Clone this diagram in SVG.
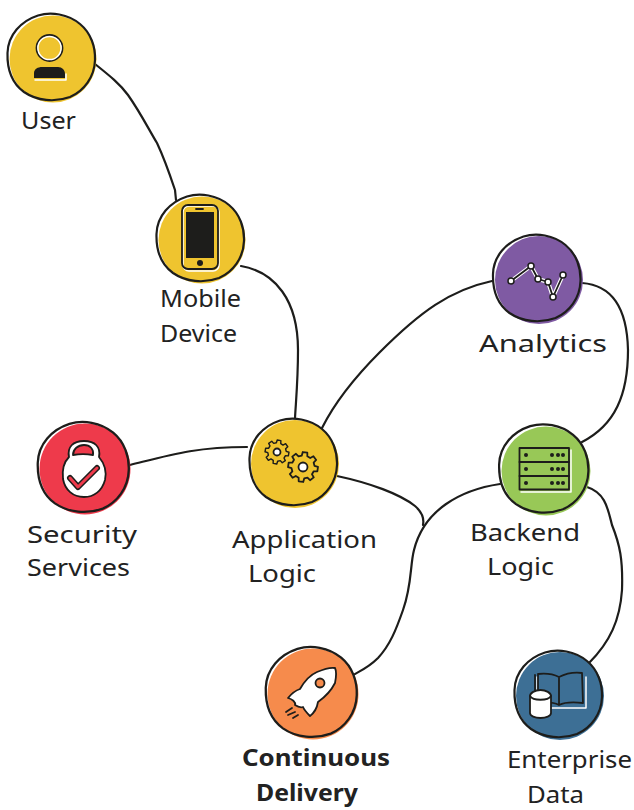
<svg xmlns="http://www.w3.org/2000/svg" xmlns:xlink="http://www.w3.org/1999/xlink" width="634" height="810" viewBox="0 0 634 810">
<style>
.c{fill:none;stroke:#1d1d1b;stroke-width:2.2;stroke-linecap:round;stroke-linejoin:round}
.o{fill:none;stroke:#1d1d1b;stroke-width:2.2;vector-effect:non-scaling-stroke;stroke-linejoin:round}
.i{stroke:#1d1d1b;stroke-width:1.8;stroke-linejoin:round;stroke-linecap:round}
.h{fill:none;stroke:#fff;stroke-width:1.5;stroke-linejoin:round;stroke-linecap:round}
.k{fill:#1d1d1b}
text{font-family:"Noto Sans","Liberation Sans",sans-serif;font-size:24px;fill:#222}
.b{font-weight:700}
</style>
<defs>
<path id="ring" d="M-43.5,-4 C-43,-22 -30,-36 -13,-41.5 C0,-45.5 17,-43 29,-33 C40,-24 44.5,-10 44,3 C43.5,20 33,34 19,40 C4,45.5 -14,44 -27,35 C-38,27 -44,13 -43.5,-4 Z"/>
<path id="gear" d="M11.2,-2.8 L14.8,-2.3 14.8,2.3 11.2,2.8 9.9,5.9 12.1,8.8 8.8,12.1 5.9,9.9 2.8,11.2 2.3,14.8 -2.3,14.8 -2.8,11.2 -5.9,9.9 -8.8,12.1 -12.1,8.8 -9.9,5.9 -11.2,2.8 -14.8,2.3 -14.8,-2.3 -11.2,-2.8 -9.9,-5.9 -12.1,-8.8 -8.8,-12.1 -5.9,-9.9 -2.8,-11.2 -2.3,-14.8 2.3,-14.8 2.8,-11.2 5.9,-9.9 8.8,-12.1 12.1,-8.8 9.9,-5.9 Z"/>
</defs>
<g id="connectors">
<path class="c" d="M95,64 C110,76 120,84 128,95 C140,112 148,128 157,143 C165,160 170,175 175,190 L176,200"/>
<path class="c" d="M241,266 C275,272 298,300 298,350 C298,380 296,400 295,418"/>
<path class="c" d="M492,281 C450,290 420,312 380,352 C355,377 335,402 322,428"/>
<path class="c" d="M130,465 C170,455 195,447 247,447"/>
<path class="c" d="M337,476 C370,483 400,494 415,506 C423,513 424,520 423,525"/>
<path class="c" d="M500,484 C460,490 424,510 414,550 C410,565 412,585 403,610 C396,630 390,645 378,658 C368,668 360,671 353,675"/>
<path class="c" d="M582,283 C610,285 627,305 628,350 C628,395 615,425 582,442"/>
<path class="c" d="M587,487 C606,493 608,510 612,525 C620,545 623,560 622,590 C620,620 610,642 589,663"/>
</g>
<g id="user">
<circle cx="53" cy="59" r="43.5" fill="#efc42f"/>
<use href="#ring" class="o" transform="translate(51,57)"/>
<circle class="i" cx="49.5" cy="48" r="13" fill="#efc42f"/>
<circle class="h" cx="49.5" cy="48" r="11.6"/>
<path class="k" d="M34,78 L34,73 C34,69 38,67 42,67 L58,67 C62,67 65,70 65,74 L65,78 Z"/>
<path class="h" d="M35,80 L66,80 L66,74"/>
<text x="21" y="129" textLength="55" lengthAdjust="spacingAndGlyphs">User</text>
</g>
<g id="mobile">
<circle cx="202" cy="240" r="43.5" fill="#efc42f"/>
<use href="#ring" class="o" transform="translate(200,238)"/>
<rect class="h" x="183" y="206" width="36" height="65" rx="6"/>
<rect class="i" x="182" y="205" width="36" height="64" rx="6" fill="none"/>
<rect class="k" x="186" y="212" width="28" height="46"/>
<circle class="k" cx="200" cy="263" r="3"/>
<path class="i" d="M196,209 L203,209" fill="none"/>
<text x="160" y="307" textLength="81" lengthAdjust="spacingAndGlyphs">Mobile</text>
<text x="160" y="342" textLength="77" lengthAdjust="spacingAndGlyphs">Device</text>
</g>
<g id="analytics">
<circle cx="539" cy="280" r="44" fill="#7f5aa3"/>
<use href="#ring" class="o" transform="translate(536.500,278)"/>
<path class="h" style="stroke-width:4" d="M511,281 L531,266 L538,279 L548,282 L553,297 L563,275"/>
<path class="i" fill="none" d="M511,281 L531,266 L538,279 L548,282 L553,297 L563,275"/>
<g class="i" fill="#fff" style="stroke-width:1.5">
<circle cx="511" cy="281" r="3"/><circle cx="531" cy="266" r="3"/><circle cx="538" cy="279" r="3"/><circle cx="548" cy="282" r="3"/><circle cx="553" cy="297" r="3"/><circle cx="563" cy="275" r="3"/>
</g>
<text x="479" y="352" textLength="128" lengthAdjust="spacingAndGlyphs">Analytics</text>
</g>
<g id="security">
<circle cx="85" cy="469" r="45.500" fill="#ee3a4b"/>
<use href="#ring" class="o" transform="translate(83,467) scale(1.04)"/>
<path class="i" fill="#fff" d="M69,457 C67,447 73,441 84,441 C95,441 101,447 99,457 C104,463 107,471 105,480 C102,491 94,497 84,497 C73,497 65,490 63,479 C62,470 64,462 69,457 Z"/>
<path class="i" fill="#ee3a4b" d="M73,455 C73,449 78,445 84,445 C90,445 94,449 93,455 C87,454 79,454 73,455 Z"/>
<path d="M70,478 L78,487 L97,468" fill="none" stroke="#1d1d1b" stroke-width="6" stroke-linejoin="round" stroke-linecap="round"/>
<path d="M70,478 L78,487 L97,468" fill="none" stroke="#ee3a4b" stroke-width="3" stroke-linejoin="round" stroke-linecap="round"/>
<text x="27" y="543" textLength="110" lengthAdjust="spacingAndGlyphs">Security</text>
<text x="27" y="576" textLength="103" lengthAdjust="spacingAndGlyphs">Services</text>
</g>
<g id="application">
<circle cx="295" cy="464" r="44" fill="#efc42f"/>
<use href="#ring" class="o" transform="translate(293,462)"/>
<use href="#gear" class="i" fill="#efc42f" transform="translate(277,452) rotate(10) scale(.8)"/>
<circle class="i" cx="277" cy="452" r="3.500" fill="#fff"/>
<use href="#gear" class="i" fill="#efc42f" transform="translate(303,467) rotate(8)"/>
<circle class="i" cx="303" cy="467" r="4.500" fill="#fff"/>
<text x="232" y="548" textLength="145" lengthAdjust="spacingAndGlyphs">Application</text>
<text x="248" y="582" textLength="68" lengthAdjust="spacingAndGlyphs">Logic</text>
</g>
<g id="backend">
<circle cx="546" cy="471" r="44.500" fill="#98c857"/>
<use href="#ring" class="o" transform="translate(543.500,468.500) scale(1.02)"/>
<path class="h" d="M521,492 L571,492 L571,450"/>
<rect class="i" x="519.500" y="448" width="49.500" height="41.500" fill="none"/>
<path class="i" d="M519.500,462 L569,462 M519.500,476 L569,476" fill="none"/>
<g class="k">
<circle cx="526" cy="455" r="2"/><circle cx="552" cy="455" r="2"/><circle cx="558" cy="455" r="2"/><circle cx="563" cy="455" r="2"/>
<circle cx="526" cy="469" r="2"/><circle cx="552" cy="469" r="2"/><circle cx="558" cy="469" r="2"/><circle cx="563" cy="469" r="2"/>
<circle cx="526" cy="483" r="2"/><circle cx="552" cy="483" r="2"/><circle cx="558" cy="483" r="2"/><circle cx="563" cy="483" r="2"/>
</g>
<text x="470" y="541" textLength="110" lengthAdjust="spacingAndGlyphs">Backend</text>
<text x="487" y="575" textLength="67" lengthAdjust="spacingAndGlyphs">Logic</text>
</g>
<g id="delivery">
<circle cx="313" cy="694" r="45.500" fill="#f68b4c"/>
<use href="#ring" class="o" transform="translate(311,692) scale(1.04)"/>
<path class="i" fill="#fff" d="M288,698 C292,693 297,690 300,689 C304,682 310,675 317,672 C324,669 330,667 335,668 C337,672 336,678 335,683 C331,691 325,697 318,702 C317,708 314,713 310,716 C307,713 304,710 303,707 C300,708 298,707 295,705 C296,702 292,699 288,698 Z"/>
<circle class="i" cx="320" cy="683" r="4.500" fill="#f68b4c"/>
<path class="i" fill="none" d="M286,712 L292,708 M288,715 L295,712 M293,718 L298,715"/>
<text x="242" y="766" class="b" textLength="148" lengthAdjust="spacingAndGlyphs">Continuous</text>
<text x="256" y="801" class="b" textLength="102" lengthAdjust="spacingAndGlyphs">Delivery</text>
</g>
<g id="enterprise">
<circle cx="560" cy="696" r="44" fill="#3d6f95"/>
<use href="#ring" class="o" transform="translate(558,694)"/>
<path class="h" d="M537,677 L537,708 L586,708 L586,677"/>
<path class="i" fill="none" d="M535,675 L535,700 M538,674 C546,673 553,674 559,677 C565,674 574,672 582,673 L583,703 C574,702 565,702 559,705 C553,702 546,702 538,703 Z M559,677 L559,705"/>
<path class="i" fill="#fff" d="M530,696 C530,693 535,690 540.500,690 C546,690 551,693 551,696 L551,713 C551,716 546,718 540.500,718 C535,718 530,716 530,713 Z"/>
<path class="i" fill="none" d="M530,696 C533,701 548,701 551,696"/>
<text x="507" y="768" textLength="125" lengthAdjust="spacingAndGlyphs">Enterprise</text>
<text x="527" y="803" textLength="57" lengthAdjust="spacingAndGlyphs">Data</text>
</g>
</svg>
